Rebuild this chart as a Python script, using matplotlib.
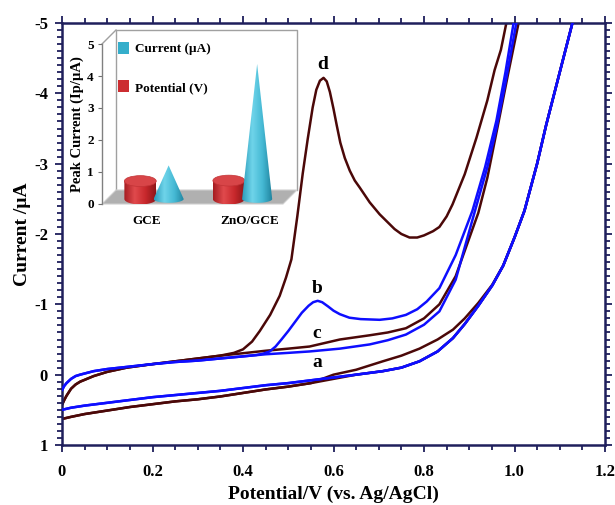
import numpy as np
import matplotlib
matplotlib.use('Agg')
import matplotlib.pyplot as plt
from matplotlib.patches import Polygon, Ellipse, Patch
from matplotlib.colors import LinearSegmentedColormap
from matplotlib.ticker import MultipleLocator

# ---------------- data ----------------
# forward (anodic) scans
xa_f = [0.0, 0.005, 0.01, 0.02, 0.03, 0.04, 0.07, 0.1, 0.143, 0.2, 0.25, 0.3, 0.349, 0.4, 0.45, 0.5, 0.547,
        0.614, 0.68, 0.72, 0.76, 0.8, 0.834, 0.87, 0.907, 0.94, 0.96, 0.98, 1.004, 1.03]
ya_f = [0.22, 0.16, 0.12, 0.06, 0.02, 0.0, -0.05, -0.08, -0.11, -0.15, -0.18, -0.2, -0.23, -0.26, -0.29, -0.31, -0.33,
        -0.37, -0.43, -0.49, -0.57, -0.71, -0.9, -1.35, -2.2, -2.95, -3.5, -4.15, -5.0, -5.9]

xb_f = [0.0, 0.005, 0.01, 0.02, 0.03, 0.04, 0.07, 0.1, 0.143, 0.2, 0.25, 0.3, 0.349, 0.4, 0.43, 0.445, 0.459,
        0.472, 0.485, 0.5, 0.515, 0.53, 0.545, 0.555, 0.565, 0.575, 0.588, 0.6, 0.614, 0.635, 0.66,
        0.702, 0.73, 0.76, 0.785, 0.806, 0.834, 0.87, 0.907, 0.935, 0.96, 0.98, 0.998, 1.03]
yb_f = [0.22, 0.16, 0.12, 0.06, 0.02, 0.0, -0.05, -0.08, -0.11, -0.15, -0.18, -0.2, -0.23, -0.26, -0.28, -0.3, -0.33,
        -0.4, -0.5, -0.62, -0.75, -0.88, -0.98, -1.03, -1.05, -1.03, -0.97, -0.91, -0.86, -0.81, -0.79,
        -0.78, -0.8, -0.85, -0.93, -1.04, -1.23, -1.7, -2.33, -2.95, -3.61, -4.3, -5.0, -6.2]

xc_f = [0.0, 0.005, 0.01, 0.02, 0.03, 0.04, 0.07, 0.1, 0.143, 0.2, 0.25, 0.3, 0.349, 0.393, 0.45, 0.5, 0.547,
        0.614, 0.68, 0.72, 0.76, 0.8, 0.834, 0.87, 0.92, 0.94, 0.965, 0.985, 1.009, 1.04]
yc_f = [0.43, 0.36, 0.3, 0.2, 0.14, 0.1, 0.02, -0.04, -0.1, -0.15, -0.19, -0.23, -0.27, -0.3, -0.34, -0.37, -0.4,
        -0.5, -0.56, -0.6, -0.66, -0.8, -1.0, -1.4, -2.3, -2.8, -3.6, -4.25, -5.0, -6.0]

xd_f = [0.0, 0.005, 0.01, 0.02, 0.03, 0.04, 0.07, 0.1, 0.143, 0.2, 0.25, 0.3, 0.349, 0.38, 0.40, 0.42, 0.437,
        0.46, 0.481, 0.495, 0.507, 0.52, 0.532, 0.543, 0.554, 0.562, 0.57, 0.578, 0.585, 0.592, 0.6,
        0.607, 0.615, 0.625, 0.636, 0.647, 0.658, 0.68, 0.702, 0.735, 0.75, 0.768, 0.785, 0.8, 0.82,
        0.834, 0.85, 0.863, 0.89, 0.916, 0.94, 0.956, 0.97, 0.982, 1.0]
yd_f = [0.43, 0.36, 0.3, 0.2, 0.14, 0.1, 0.02, -0.04, -0.1, -0.15, -0.19, -0.23, -0.27, -0.31, -0.36, -0.47, -0.62,
        -0.85, -1.12, -1.38, -1.64, -2.25, -2.86, -3.35, -3.8, -4.05, -4.18, -4.22, -4.17, -4.02, -3.78,
        -3.55, -3.3, -3.08, -2.9, -2.76, -2.66, -2.45, -2.28, -2.07, -2.0, -1.95, -1.95, -1.98, -2.04,
        -2.1, -2.25, -2.42, -2.85, -3.37, -3.9, -4.33, -4.62, -5.0, -5.6]

# reverse (cathodic) scans
x_rev = [1.15, 1.128, 1.1, 1.07, 1.05, 1.022, 1.0, 0.975, 0.951, 0.92, 0.89, 0.864, 0.83, 0.79, 0.75,
         0.709, 0.65, 0.6, 0.55, 0.5, 0.45, 0.4, 0.35, 0.3, 0.25, 0.2, 0.15, 0.1, 0.05, 0.02, 0.0]
yab_rev = [-5.6, -5.0, -4.3, -3.55, -3.0, -2.33, -1.95, -1.55, -1.27, -0.98, -0.72, -0.52, -0.33, -0.19, -0.1,
           -0.05, 0.0, 0.04, 0.08, 0.12, 0.15, 0.19, 0.23, 0.26, 0.29, 0.32, 0.36, 0.40, 0.44, 0.47, 0.5]
yc_rev = [-5.6, -5.0, -4.3, -3.55, -3.0, -2.33, -1.95, -1.55, -1.27, -0.98, -0.72, -0.52, -0.33, -0.19, -0.1,
          -0.05, 0.0, 0.06, 0.12, 0.17, 0.21, 0.26, 0.31, 0.35, 0.38, 0.42, 0.46, 0.51, 0.56, 0.6, 0.63]
yd_rev = [-5.6, -5.0, -4.3, -3.55, -3.0, -2.33, -1.95, -1.55, -1.28, -1.02, -0.8, -0.64, -0.5, -0.37, -0.27,
          -0.19, -0.07, 0.0, 0.12, 0.17, 0.21, 0.26, 0.31, 0.35, 0.38, 0.42, 0.46, 0.51, 0.56, 0.6, 0.63]

curve_names = ['a', 'b', 'c', 'd']
label_x = [0.563, 0.563, 0.563, 0.576]
label_y = [-0.18, -1.23, -0.59, -4.41]

xtick_vals = [0, 0.2, 0.4, 0.6, 0.8, 1.0, 1.2]
xtick_labels = ['0', '0.2', '0.4', '0.6', '0.8', '1.0', '1.2']
ytick_vals = [-5, -4, -3, -2, -1, 0, 1]
ytick_labels = ['-5', '-4', '-3', '-2', '-1', '0', '1']

# inset data
inset_categories = ['GCE', 'ZnO/GCE']
inset_current = [1.05, 4.22]      # µA
inset_potential = [0.56, 0.575]   # V
inset_ticks = [0, 1, 2, 3, 4, 5]

# ---------------- styling ----------------
plt.rcParams['font.family'] = ['Liberation Serif', 'DejaVu Serif']
plt.rcParams['font.weight'] = 'bold'
plt.rcParams['axes.unicode_minus'] = False

NAVY = '#1f1f5c'
BROWN = '#4b0808'
BLUE = '#0e0eff'

fig = plt.figure(figsize=(6.15, 5.05), dpi=100)
ax = fig.add_axes([62 / 615, 1 - 445 / 505, 543 / 615, 422 / 505])

lw = 1.8
kw = dict(lw=lw, solid_joinstyle='round', solid_capstyle='round')
ax.plot(xc_f + x_rev, yc_f + yc_rev, color=BROWN, zorder=2, **kw)
ax.plot(xd_f + x_rev, yd_f + yd_rev, color=BROWN, zorder=2, **kw)
ax.plot(xa_f + x_rev, ya_f + yab_rev, color=BLUE, zorder=3, **kw)
ax.plot(xb_f + x_rev, yb_f + yab_rev, color=BLUE, zorder=3, **kw)

for n, lx, ly in zip(curve_names, label_x, label_y):
    ax.text(lx, ly, n, fontsize=14, fontweight='bold', ha='center', va='center', zorder=5)

ax.set_xlim(0, 1.2)
ax.set_ylim(1, -5)
ax.set_xticks(xtick_vals, xtick_labels)
ax.set_yticks(ytick_vals, ytick_labels)
ax.xaxis.set_minor_locator(MultipleLocator(0.05))
ax.yaxis.set_minor_locator(MultipleLocator(0.1))
ax.tick_params(which='both', direction='out', top=True, right=True, color=NAVY, width=1.3)
ax.tick_params(which='major', length=5)
ax.tick_params(which='minor', length=3.5)
ax.tick_params(axis='x', which='major', pad=9, labelsize=12)
ax.tick_params(axis='y', which='major', pad=5, labelsize=12)
for lab in ax.get_xticklabels() + ax.get_yticklabels():
    lab.set_fontweight('bold')
for s in ax.spines.values():
    s.set_color(NAVY)
    s.set_linewidth(1.8)
ax.set_xlabel('Potential/V (vs. Ag/AgCl)', fontsize=14, fontweight='bold', labelpad=4)
ax.set_ylabel('Current /µA', fontsize=14, fontweight='bold', labelpad=2)

# ---------------- inset (pseudo-3D bar chart) ----------------
axi = fig.add_axes([102 / 615, 1 - 204 / 505, 181 / 615, 160 / 505])
axi.set_facecolor('none')
XMIN, XMAX = -0.508, 1.537
px_x = 1 / 88.5   # data units per pixel (x)
px_y = 1 / 32.0   # data units per pixel (y)
ddx, ddy = 14 * px_x, 14 * px_y          # depth of box
bdx, bdy = 7.5 * px_x, 5 * px_y          # depth position of the bars

WALL = '#a0a0a0'
floor = Polygon([(XMIN, 0), (XMAX, 0), (XMAX + ddx, ddy), (XMIN + ddx, ddy)], closed=True,
                facecolor='#b0b0b0', edgecolor='#d0d0d0', lw=0.8, zorder=1, clip_on=False)
axi.add_patch(floor)
axi.plot([XMIN + ddx, XMIN + ddx, XMAX + ddx, XMAX + ddx], [ddy, 5 + ddy, 5 + ddy, ddy],
         color=WALL, lw=1.0, zorder=0.5, clip_on=False)
axi.plot([XMIN, XMIN + ddx], [5, 5 + ddy], color=WALL, lw=1.0, zorder=0.5, clip_on=False)


def gradient_fill(verts, colors, z):
    poly = Polygon(verts, closed=True, facecolor='none', edgecolor='none', zorder=z)
    axi.add_patch(poly)
    xs = [v[0] for v in verts]
    ys = [v[1] for v in verts]
    cmap = LinearSegmentedColormap.from_list('g', colors)
    im = axi.imshow(np.linspace(0, 1, 128).reshape(1, -1), cmap=cmap,
                    extent=[min(xs), max(xs), min(ys), max(ys)], aspect='auto',
                    origin='lower', zorder=z, interpolation='bilinear')
    im.set_clip_path(poly)


CYAN_G = ['#2b9cba', '#6fd4ea', '#45b9d4', '#1e809b']
RED_G = ['#a51c20', '#e04a4d', '#c9292d', '#8e1619']
t = np.linspace(0, np.pi, 40)

for i, cat in enumerate(range(len(inset_categories))):
    base = bdy
    # cylinder (potential)
    cx = cat + bdx - 0.16
    a, b = 0.18, 0.17
    h = inset_potential[i]
    arc = [(cx + a * np.cos(-tt), base + b * np.sin(-tt)) for tt in t]
    body = [(cx - a, base + h), (cx + a, base + h)] + arc
    gradient_fill(body, RED_G, 3 + i * 2)
    axi.add_patch(Ellipse((cx, base + h), 2 * a, 2 * b, facecolor='#d84548',
                          edgecolor='#c23336', lw=0.5, zorder=3.1 + i * 2))
    # cone (current)
    cx = cat + bdx + 0.16
    a, b = 0.17, 0.12
    h = inset_current[i]
    arc = [(cx + a * np.cos(-tt), base + b * np.sin(-tt)) for tt in t]
    cone = [(cx, base + h)] + arc
    gradient_fill(cone, CYAN_G, 4 + i * 2)

axi.set_xlim(XMIN, XMAX)
axi.set_ylim(0, 5)
label_shift = [0.0, 0.16]
axi.set_xticks([c + s for c, s in zip(range(len(inset_categories)), label_shift)], inset_categories)
axi.set_yticks(inset_ticks, [str(v) for v in inset_ticks])
axi.tick_params(axis='x', length=0, pad=8, labelsize=9.5)
axi.tick_params(axis='y', length=3, width=0.8, color='#707070', pad=3, labelsize=9.5, direction='out')
for lab in axi.get_xticklabels() + axi.get_yticklabels():
    lab.set_fontweight('bold')
for k in ['top', 'right', 'bottom']:
    axi.spines[k].set_visible(False)
axi.spines['left'].set_color('#808080')
axi.spines['left'].set_linewidth(1.0)
axi.set_ylabel('Peak Current (Ip/µA)', fontsize=10.5, fontweight='bold', labelpad=2)

handles = [Patch(facecolor='#35aecb', edgecolor='none'), Patch(facecolor='#cc2d31', edgecolor='none')]
axi.legend(handles, ['Current (µA)', 'Potential (V)'], loc='upper left',
           bbox_to_anchor=(118 / 615, 1 - 42 / 505), bbox_transform=fig.transFigure,
           frameon=False, borderpad=0, borderaxespad=0, labelspacing=1.9,
           handlelength=0.8, handleheight=1.0, handletextpad=0.5,
           prop={'family': 'Liberation Serif', 'weight': 'bold', 'size': 9.5})

fig.savefig('out.png', dpi=100)
